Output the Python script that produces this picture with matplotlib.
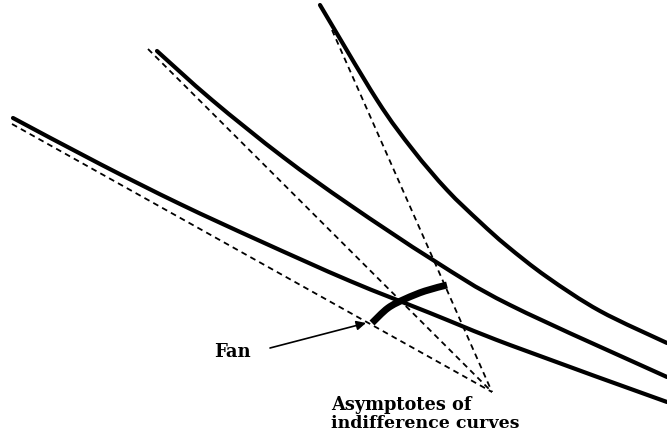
import matplotlib
matplotlib.use("Agg")
import matplotlib.pyplot as plt
from matplotlib.path import Path
from matplotlib.patches import PathPatch

# Indifference curves (read in picture units, y downward)
c1_x = [13, 100, 180, 260, 350, 430, 510, 667]
c1_y = [118, 164, 204, 241, 281, 313, 345, 402]
c2_x = [157, 212, 283, 350, 433, 510, 667]
c2_y = [51, 100, 157, 205, 260, 305, 377]
c3_x = [320, 377, 413, 447, 480, 507, 547, 600, 667]
c3_y = [5, 100, 150, 190, 222, 246, 277, 311, 343]

# Asymptotes: start points and common apex
apex = (492, 392)
asym_x = [12, 148, 332]
asym_y = [124, 49, 30]

# Fan curve
fan_x = [372, 388, 405, 425, 447]
fan_y = [323, 308, 299, 291, 285]


def smooth_path(xs, ys):
    """Catmull-Rom through the read points, drawn as cubic Bezier segments."""
    pts = list(zip(xs, ys))
    n = len(pts)
    verts = [pts[0]]
    codes = [Path.MOVETO]
    for i in range(n - 1):
        p0 = pts[i - 1] if i > 0 else pts[i]
        p1 = pts[i]
        p2 = pts[i + 1]
        p3 = pts[i + 2] if i + 2 < n else pts[i + 1]
        c1 = (p1[0] + (p2[0] - p0[0]) / 6.0, p1[1] + (p2[1] - p0[1]) / 6.0)
        c2 = (p2[0] - (p3[0] - p1[0]) / 6.0, p2[1] - (p3[1] - p1[1]) / 6.0)
        verts += [c1, c2, p2]
        codes += [Path.CURVE4] * 3
    return Path(verts, codes)


fig = plt.figure(figsize=(6.67, 4.37), dpi=100)
ax = fig.add_axes([0, 0, 1, 1])
ax.set_xlim(0, 667)
ax.set_ylim(437, 0)
ax.axis("off")

for xs, ys in [(c1_x, c1_y), (c2_x, c2_y), (c3_x, c3_y)]:
    ax.add_patch(PathPatch(smooth_path(xs, ys), fill=False, edgecolor="black",
                           lw=3.0, capstyle="round", joinstyle="round"))

for x0, y0 in zip(asym_x, asym_y):
    ax.plot([x0, apex[0]], [y0, apex[1]], color="black", lw=1.3,
            dashes=(3.2, 2.4))

ax.add_patch(PathPatch(smooth_path(fan_x, fan_y), fill=False, edgecolor="black",
                       lw=5.0, capstyle="butt"))

ax.annotate("", xy=(366, 323), xytext=(270, 348),
            arrowprops=dict(arrowstyle="-|>", color="black", lw=1.2,
                            mutation_scale=14, shrinkA=0, shrinkB=0))

font = dict(family="DejaVu Serif", fontweight="bold", color="black")
ax.text(214, 352, "Fan", fontsize=13, va="center", ha="left", **font)
ax.text(331, 405, "Asymptotes of", fontsize=12.8, va="center", ha="left", **font)
ax.text(331, 424, "indifference curves", fontsize=12.5, va="center", ha="left", **font)

fig.savefig("out.png", dpi=100)
